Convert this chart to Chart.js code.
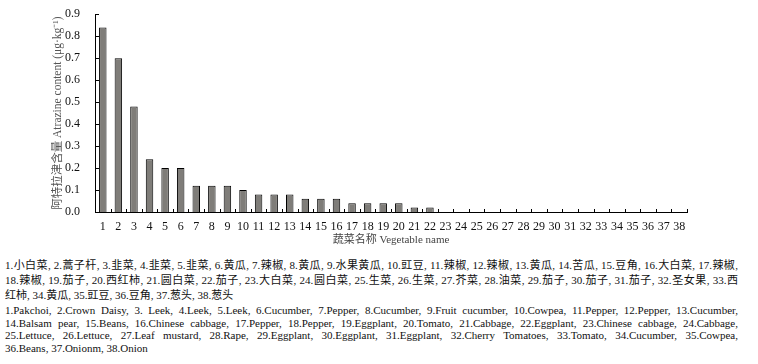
<!DOCTYPE html>
<html>
<head>
<meta charset="utf-8">
<script src="https://cdn.jsdelivr.net/npm/chart.js@4"></script>
<style>
  body { margin: 0; background: #fff; width: 758px; height: 364px; position: relative; overflow: hidden; }
  #graficaAtrazina { position: absolute; left: 0; top: 0; }
  .nota { position: absolute; left: 5px; width: 733px; color: #111; }
  .nota div { white-space: nowrap; text-align: justify; text-align-last: justify; }
  .nota div.ultima { text-align-last: left; }
  #notaZh { top: 258px; font: 11px 'Liberation Serif', 'Noto Sans CJK SC', serif; line-height: 15px; }
  #notaEn { top: 304px; font: 11px 'Liberation Serif', serif; line-height: 12.7px; }
</style>
</head>
<body>
<canvas id="graficaAtrazina" width="758" height="250"></canvas>
<div class="nota" id="notaZh"></div>
<div class="nota" id="notaEn"></div>
<script>
const categorias = Array.from({ length: 38 }, (_, i) => String(i + 1));
const contenido = [0.84, 0.70, 0.48, 0.24, 0.20, 0.20, 0.12, 0.12, 0.12, 0.10,
  0.08, 0.08, 0.08, 0.06, 0.06, 0.06, 0.04, 0.04, 0.04, 0.04,
  0.02, 0.02, 0, 0, 0, 0, 0, 0, 0, 0,
  0, 0, 0, 0, 0, 0, 0, 0];
const yTicks = [0, 0.1, 0.2, 0.3, 0.4, 0.5, 0.6, 0.7, 0.8, 0.9];

const tituloY = '阿特拉津含量 Atrazine content (μg·kg⁻¹)';
const tituloX = '蔬菜名称 Vegetable name';

const notaZh = [
  '1.小白菜, 2.蒿子杆, 3.韭菜, 4.韭菜, 5.韭菜, 6.黄瓜, 7.辣椒, 8.黄瓜, 9.水果黄瓜, 10.豇豆, 11.辣椒, 12.辣椒, 13.黄瓜, 14.苦瓜, 15.豆角, 16.大白菜, 17.辣椒,',
  '18.辣椒, 19.茄子, 20.西红柿, 21.圆白菜, 22.茄子, 23.大白菜, 24.圆白菜, 25.生菜, 26.生菜, 27.芥菜, 28.油菜, 29.茄子, 30.茄子, 31.茄子, 32.圣女果, 33.西',
  '红柿, 34.黄瓜, 35.豇豆, 36.豆角, 37.葱头, 38.葱头'
];
const notaEn = [
  '1.Pakchoi, 2.Crown Daisy, 3. Leek, 4.Leek, 5.Leek, 6.Cucumber, 7.Pepper, 8.Cucumber, 9.Fruit cucumber, 10.Cowpea, 11.Pepper, 12.Pepper, 13.Cucumber,',
  '14.Balsam pear, 15.Beans, 16.Chinese cabbage, 17.Pepper, 18.Pepper, 19.Eggplant, 20.Tomato, 21.Cabbage, 22.Eggplant, 23.Chinese cabbage, 24.Cabbage,',
  '25.Lettuce, 26.Lettuce, 27.Leaf mustard, 28.Rape, 29.Eggplant, 30.Eggplant, 31.Eggplant, 32.Cherry Tomatoes, 33.Tomato, 34.Cucumber, 35.Cowpea,',
  '36.Beans, 37.Onionm, 38.Onion'
];

function llenarNota(id, lineas) {
  const cont = document.getElementById(id);
  lineas.forEach((txt, i) => {
    const d = document.createElement('div');
    d.textContent = txt;
    if (i === lineas.length - 1) d.className = 'ultima';
    cont.appendChild(d);
  });
}
llenarNota('notaZh', notaZh);
llenarNota('notaEn', notaEn);

// tick marks pointing inward, like the original
const marcasInternas = {
  id: 'marcasInternas',
  afterDraw(chart) {
    const { ctx, scales: { x, y } } = chart;
    ctx.save();
    ctx.strokeStyle = '#000';
    ctx.lineWidth = 1;
    ctx.beginPath();
    for (let i = 0; i <= categorias.length; i++) {
      const px = Math.round(x.getPixelForValue(i - 0.5)) + 0.5;
      ctx.moveTo(px, y.bottom);
      ctx.lineTo(px, y.bottom - 3);
    }
    y.ticks.forEach((t, i) => {
      const py = Math.round(y.getPixelForTick(i)) + 0.5;
      ctx.moveTo(x.left, py);
      ctx.lineTo(x.left + 4, py);
    });
    ctx.stroke();
    ctx.restore();
  }
};

const fuenteTicks = { family: "'Liberation Serif', serif", size: 12 };
const fuenteTitulo = { family: "'Liberation Serif', 'Noto Sans CJK SC', serif", size: 11 };

new Chart(document.getElementById('graficaAtrazina').getContext('2d'), {
  type: 'bar',
  data: {
    labels: categorias,
    datasets: [{
      data: contenido,
      backgroundColor: '#7f7d79',
      borderColor: '#000',
      borderWidth: 1,
      barPercentage: 0.48,
      categoryPercentage: 1
    }]
  },
  options: {
    responsive: false,
    animation: false,
    devicePixelRatio: 1,
    layout: { padding: { left: 0, right: 71, top: 14, bottom: 0 } },
    plugins: { legend: { display: false }, tooltip: { enabled: false } },
    scales: {
      x: {
        grid: { display: false },
        border: { display: true, color: '#000', width: 1 },
        ticks: { color: '#111', font: fuenteTicks, padding: 0, maxRotation: 0, autoSkip: false },
        title: { display: true, text: tituloX, color: '#444', font: fuenteTitulo, padding: { top: 0, bottom: 3 } },
        afterFit: s => { s.height = 38; }
      },
      y: {
        min: 0,
        max: 0.9,
        grid: { display: false },
        border: { display: true, color: '#000', width: 1 },
        afterBuildTicks: s => { s.ticks = yTicks.map(v => ({ value: v })); },
        ticks: { color: '#111', font: fuenteTicks, padding: 7, callback: v => Number(v).toFixed(1) },
        title: { display: true, text: tituloY, color: '#555', font: { ...fuenteTitulo, size: 11.5 }, padding: { top: 51, bottom: 0 } },
        afterFit: s => { s.width = 95; }
      }
    }
  },
  plugins: [marcasInternas]
});
</script>
</body>
</html>
